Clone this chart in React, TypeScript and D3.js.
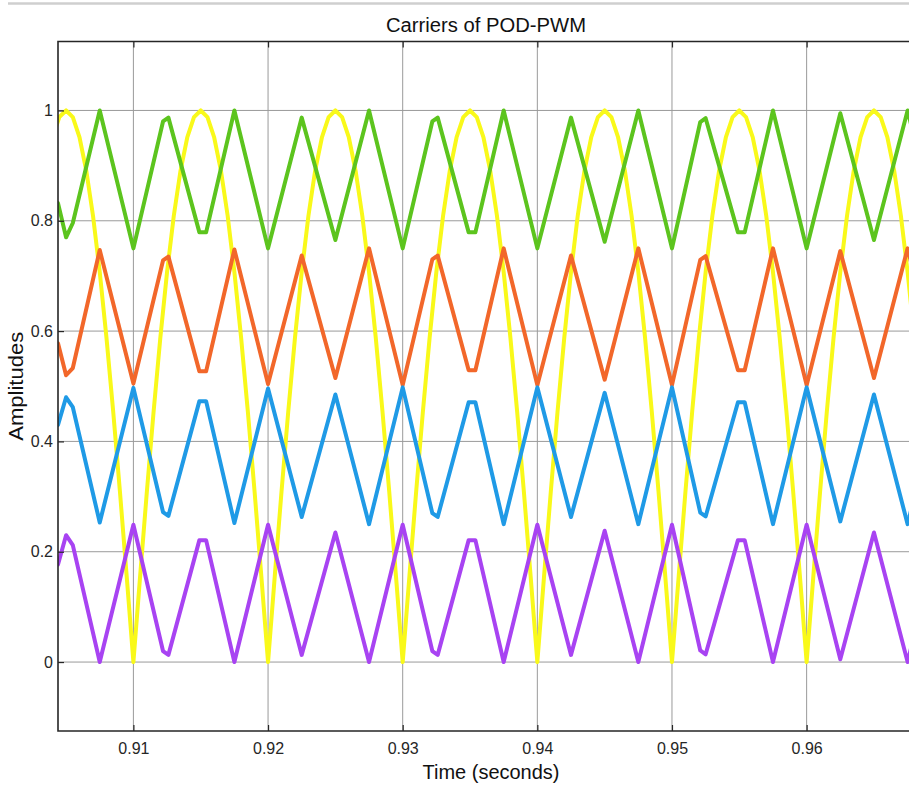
import { useEffect, useRef } from 'react';
import * as d3 from 'd3';

// reference carrier vertices (shared sample times for the four triangles)
const carrierTimes = [
  0.9044, 0.905, 0.9055, 0.9075, 0.91, 0.9122, 0.9126, 0.9149, 0.9154, 0.9175,
  0.92, 0.9225, 0.925, 0.9275, 0.93, 0.9322, 0.9326, 0.9349, 0.9354, 0.9375,
  0.94, 0.9425, 0.945, 0.9475, 0.95, 0.9521, 0.9525, 0.9549, 0.9554, 0.9575,
  0.96, 0.9625, 0.965, 0.9675, 0.97,
];
const greenValues = [
  0.832, 0.77, 0.796, 1.0, 0.75, 0.98, 0.987, 0.779, 0.779, 1.0,
  0.75, 0.987, 0.765, 1.0, 0.75, 0.98, 0.987, 0.779, 0.779, 1.0,
  0.75, 0.987, 0.762, 1.0, 0.75, 0.979, 0.986, 0.779, 0.779, 1.0,
  0.75, 0.995, 0.765, 1.0, 0.75,
];
const orangeValues = [
  0.578, 0.52, 0.533, 0.747, 0.505, 0.728, 0.735, 0.527, 0.527, 0.748,
  0.504, 0.737, 0.515, 0.75, 0.502, 0.73, 0.737, 0.529, 0.529, 0.75,
  0.502, 0.737, 0.512, 0.75, 0.502, 0.729, 0.736, 0.529, 0.529, 0.75,
  0.502, 0.745, 0.515, 0.75, 0.502,
];
const blueValues = [
  0.43, 0.48, 0.462, 0.253, 0.497, 0.272, 0.265, 0.473, 0.473, 0.252,
  0.496, 0.263, 0.485, 0.25, 0.498, 0.27, 0.263, 0.471, 0.471, 0.25,
  0.498, 0.263, 0.488, 0.25, 0.498, 0.271, 0.264, 0.471, 0.471, 0.25,
  0.498, 0.255, 0.485, 0.25, 0.498,
];
const purpleValues = [
  0.177, 0.23, 0.212, 0.0, 0.249, 0.02, 0.013, 0.221, 0.221, 0.0,
  0.249, 0.013, 0.235, 0.0, 0.249, 0.02, 0.013, 0.221, 0.221, 0.0,
  0.249, 0.013, 0.238, 0.0, 0.249, 0.021, 0.014, 0.221, 0.221, 0.0,
  0.249, 0.005, 0.235, 0.0, 0.249,
];

// modulating wave, sampled every 0.5 ms from 0.904 s
const yellowStart = 0.904;
const yellowStep = 0.0005;
const yellowValues = [
  0.951, 0.988, 1, 0.988, 0.951, 0.891, 0.809, 0.707, 0.588, 0.454, 0.309, 0.156,
  0, 0.156, 0.309, 0.454, 0.588, 0.707, 0.809, 0.891, 0.951, 0.988, 1, 0.988, 0.951, 0.891, 0.809, 0.707, 0.588, 0.454, 0.309, 0.156,
  0, 0.156, 0.309, 0.454, 0.588, 0.707, 0.809, 0.891, 0.951, 0.988, 1, 0.988, 0.951, 0.891, 0.809, 0.707, 0.588, 0.454, 0.309, 0.156,
  0, 0.156, 0.309, 0.454, 0.588, 0.707, 0.809, 0.891, 0.951, 0.988, 1, 0.988, 0.951, 0.891, 0.809, 0.707, 0.588, 0.454, 0.309, 0.156,
  0, 0.156, 0.309, 0.454, 0.588, 0.707, 0.809, 0.891, 0.951, 0.988, 1, 0.988, 0.951, 0.891, 0.809, 0.707, 0.588, 0.454, 0.309, 0.156,
  0, 0.156, 0.309, 0.454, 0.588, 0.707, 0.809, 0.891, 0.951, 0.988, 1, 0.988, 0.951, 0.891, 0.809, 0.707, 0.588, 0.454, 0.309, 0.156,
  0, 0.156, 0.309, 0.454, 0.588, 0.707, 0.809, 0.891, 0.951, 0.988, 1, 0.988, 0.951, 0.891, 0.809, 0.707, 0.588,
];

const xTicks = [0.91, 0.92, 0.93, 0.94, 0.95, 0.96];
const yTicks = [0, 0.2, 0.4, 0.6, 0.8, 1];

const App = () => {
  const svgRef = useRef<SVGSVGElement>(null);

  useEffect(() => {
    const W = 909;
    const H = 788;
    const left = 58, right = 913, top = 41.5, bottom = 731;

    const svg = d3.select(svgRef.current);
    svg.selectAll('*').remove();
    svg.attr('width', W).attr('height', H);

    const x = d3.scaleLinear().domain([0.9044, 0.9679]).range([left, right]);
    const y = d3.scaleLinear().domain([-0.125, 1.125]).range([bottom, top]);

    const font = '"Liberation Sans", Arial, Helvetica, sans-serif';
    const ink = '#262626';

    svg.append('rect').attr('width', W).attr('height', H).attr('fill', '#fff');

    // thin grey rule across the top of the figure
    svg.append('line')
      .attr('x1', 8).attr('x2', W).attr('y1', 3.5).attr('y2', 3.5)
      .attr('stroke', '#cfcfcf').attr('stroke-width', 2.5);

    // grid
    const grid = svg.append('g');
    grid.selectAll('.vg').data(xTicks).enter().append('line')
      .attr('x1', d => x(d)).attr('x2', d => x(d))
      .attr('y1', top).attr('y2', bottom)
      .attr('stroke', '#9a9a9a').attr('stroke-width', 1);
    grid.selectAll('.hg').data(yTicks).enter().append('line')
      .attr('x1', left).attr('x2', right)
      .attr('y1', d => y(d)).attr('y2', d => y(d))
      .attr('stroke', '#9a9a9a').attr('stroke-width', 1);

    svg.append('clipPath').attr('id', 'plot-clip')
      .append('rect')
      .attr('x', left).attr('y', top)
      .attr('width', right - left).attr('height', bottom - top);

    const line = d3.line<[number, number]>()
      .x(d => x(d[0]))
      .y(d => y(d[1]));

    const lines = svg.append('g').attr('clip-path', 'url(#plot-clip)');

    const yellowPts = yellowValues.map((v, i) => [yellowStart + i * yellowStep, v] as [number, number]);
    const series = [
      { pts: yellowPts, color: '#f9f91a' },
      { pts: carrierTimes.map((t, i) => [t, greenValues[i]] as [number, number]), color: '#5cc41e' },
      { pts: carrierTimes.map((t, i) => [t, orangeValues[i]] as [number, number]), color: '#f2672a' },
      { pts: carrierTimes.map((t, i) => [t, blueValues[i]] as [number, number]), color: '#1f9ae6' },
      { pts: carrierTimes.map((t, i) => [t, purpleValues[i]] as [number, number]), color: '#a843f2' },
    ];

    series.forEach(s => {
      lines.append('path')
        .attr('d', line(s.pts))
        .attr('fill', 'none')
        .attr('stroke', s.color)
        .attr('stroke-width', 4)
        .attr('stroke-linejoin', 'round')
        .attr('stroke-linecap', 'round');
    });

    // axes with inward ticks
    const xAxis = svg.append('g')
      .attr('transform', `translate(0,${bottom})`)
      .call(d3.axisBottom(x).tickValues(xTicks).tickSize(-6).tickPadding(12).tickFormat(d3.format('.2f')));
    const xTop = svg.append('g')
      .attr('transform', `translate(0,${top})`)
      .call(d3.axisTop(x).tickValues(xTicks).tickSize(-6).tickFormat(() => ''));
    const yAxis = svg.append('g')
      .attr('transform', `translate(${left},0)`)
      .call(d3.axisLeft(y).tickValues(yTicks).tickSize(-6).tickPadding(5).tickFormat(d => String(d)));

    [xAxis, xTop, yAxis].forEach(g => {
      g.select('.domain').remove();
      g.selectAll('.tick line').attr('stroke', ink).attr('stroke-width', 1.2);
      g.selectAll('.tick text')
        .attr('fill', ink)
        .style('font-family', font)
        .style('font-size', '16px');
    });

    // frame (right side is off the page)
    svg.append('path')
      .attr('d', `M${right},${top}H${left}V${bottom}H${right}`)
      .attr('fill', 'none')
      .attr('stroke', ink)
      .attr('stroke-width', 1.6);

    svg.append('text')
      .attr('x', 486).attr('y', 32)
      .attr('text-anchor', 'middle')
      .attr('textLength', 200)
      .attr('lengthAdjust', 'spacingAndGlyphs')
      .style('font-family', font).style('font-size', '20px')
      .attr('fill', '#111')
      .text('Carriers of POD-PWM');

    svg.append('text')
      .attr('x', 491).attr('y', 779)
      .attr('text-anchor', 'middle')
      .attr('textLength', 137)
      .attr('lengthAdjust', 'spacingAndGlyphs')
      .style('font-family', font).style('font-size', '20px')
      .attr('fill', '#111')
      .text('Time (seconds)');

    svg.append('text')
      .attr('transform', `translate(23,${(top + bottom) / 2}) rotate(-90)`)
      .attr('text-anchor', 'middle')
      .attr('textLength', 109)
      .attr('lengthAdjust', 'spacingAndGlyphs')
      .style('font-family', font).style('font-size', '20px')
      .attr('fill', '#111')
      .text('Amplitudes');
  }, []);

  return (
    <div style={{ position: 'absolute', left: 0, top: 0 }}>
      <svg ref={svgRef} style={{ display: 'block' }}></svg>
    </div>
  );
};

export default App;
